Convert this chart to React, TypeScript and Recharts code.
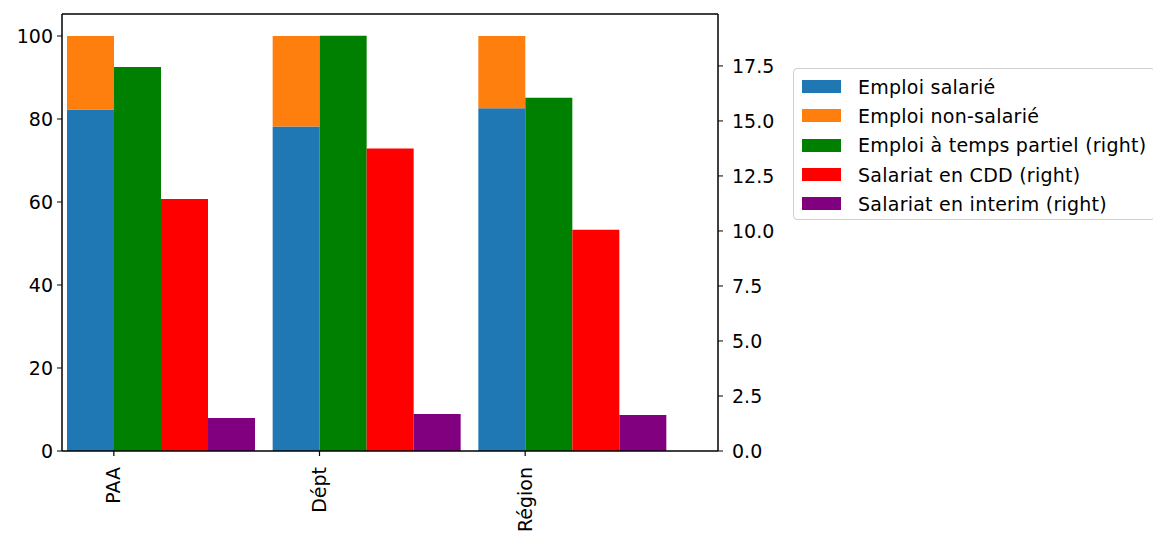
import React from "react"
import { Bar, BarChart, ReferenceLine, XAxis, YAxis } from "recharts"

const categories = ["PAA", "Dépt", "Région"]
const emploiSalarie = [82.3, 78.2, 82.6]
const emploiNonSalarie = [17.7, 21.8, 17.4]
const tempsPartiel = [17.45, 18.87, 16.05]
const salariatCdd = [11.45, 13.75, 10.05]
const salariatInterim = [1.5, 1.68, 1.64]

const leftTicks = [0, 20, 40, 60, 80, 100]
const rightTicks = [0, 2.5, 5, 7.5, 10, 12.5, 15, 17.5]

const series = [
    { key: "salarie", name: "Emploi salarié", color: "#1f77b4" },
    { key: "nonSalarie", name: "Emploi non-salarié", color: "#ff7f0e" },
    { key: "partiel", name: "Emploi à temps partiel (right)", color: "#008000" },
    { key: "cdd", name: "Salariat en CDD (right)", color: "#ff0000" },
    { key: "interim", name: "Salariat en interim (right)", color: "#800080" },
]

const data = categories.map((name, i) => ({
    name,
    salarie: emploiSalarie[i],
    nonSalarie: emploiNonSalarie[i],
    partiel: tempsPartiel[i],
    cdd: salariatCdd[i],
    interim: salariatInterim[i],
}))

const FONT = "'DejaVu Sans', sans-serif"
const BAR = 47
const LEFT_MAX = 105.3

// matplotlib puts the tick at the edge of the first bar, not the group centre
const CategoryTick = (props: any) => {
    const { x, y, payload } = props
    const tx = x - BAR
    return (
        <g>
            <line x1={tx} y1={y} x2={tx} y2={y + 5} stroke="#000" strokeWidth={1.2} />
            <text
                x={tx}
                y={y + 16}
                transform={`rotate(-90, ${tx}, ${y + 16})`}
                textAnchor="end"
                dy="0.35em"
                fontSize={19}
                fontFamily={FONT}
                fill="#000"
            >
                {payload.value}
            </text>
        </g>
    )
}

const ChartLegend = () => (
    <div
        style={{
            position: 'absolute',
            left: 793,
            top: 68,
            width: 362,
            height: 152,
            border: '1px solid #d0d0d0',
            borderRadius: 4,
            boxSizing: 'border-box',
            paddingTop: 3,
            fontFamily: FONT,
            fontSize: 19,
            letterSpacing: 0.25,
            background: '#fff',
        }}
    >
        {series.map(s => (
            <div key={s.key} style={{ display: 'flex', alignItems: 'center', height: 29.3 }}>
                <span style={{ width: 39, height: 13, background: s.color, marginLeft: 8, marginRight: 17 }} />
                <span style={{ whiteSpace: 'nowrap' }}>{s.name}</span>
            </div>
        ))}
    </div>
)

const App = () => {
    return (
        <div style={{ position: 'absolute', left: 0, top: 0, width: 1153, height: 538, background: '#fff', overflow: 'hidden' }}>
            <BarChart
                width={1153}
                height={538}
                data={data}
                margin={{ top: 14, right: 355, left: 0, bottom: 0 }}
                barGap={0}
                barSize={BAR}
            >
                <XAxis
                    dataKey="name"
                    height={87}
                    padding={{ left: -4, right: 43 }}
                    tickLine={false}
                    tickSize={0}
                    tickMargin={0}
                    tick={<CategoryTick />}
                    axisLine={{ stroke: '#000', strokeWidth: 1.5 }}
                    interval={0}
                />
                <YAxis
                    yAxisId="left"
                    width={62}
                    domain={[0, LEFT_MAX]}
                    ticks={leftTicks}
                    tickSize={5}
                    tickMargin={4}
                    axisLine={{ stroke: '#000', strokeWidth: 1.5 }}
                    tickLine={{ stroke: '#000' }}
                    tick={{ fill: '#000', fontSize: 19, fontFamily: FONT }}
                />
                <YAxis
                    yAxisId="right"
                    orientation="right"
                    width={80}
                    domain={[0, 19.86]}
                    ticks={rightTicks}
                    tickFormatter={(v: number) => v.toFixed(1)}
                    tickSize={5}
                    tickMargin={9}
                    axisLine={{ stroke: '#000', strokeWidth: 1.5 }}
                    tickLine={{ stroke: '#000' }}
                    tick={{ fill: '#000', fontSize: 19, fontFamily: FONT }}
                />
                <ReferenceLine yAxisId="left" y={LEFT_MAX} stroke="#000" strokeWidth={1.5} />
                <Bar yAxisId="left" stackId="a" dataKey="salarie" name="Emploi salarié" fill="#1f77b4" isAnimationActive={false} />
                <Bar yAxisId="left" stackId="a" dataKey="nonSalarie" name="Emploi non-salarié" fill="#ff7f0e" isAnimationActive={false} />
                <Bar yAxisId="right" dataKey="partiel" name="Emploi à temps partiel (right)" fill="#008000" isAnimationActive={false} />
                <Bar yAxisId="right" dataKey="cdd" name="Salariat en CDD (right)" fill="#ff0000" isAnimationActive={false} />
                <Bar yAxisId="right" dataKey="interim" name="Salariat en interim (right)" fill="#800080" isAnimationActive={false} />
            </BarChart>
            <ChartLegend />
        </div>
    )
}

export default App
